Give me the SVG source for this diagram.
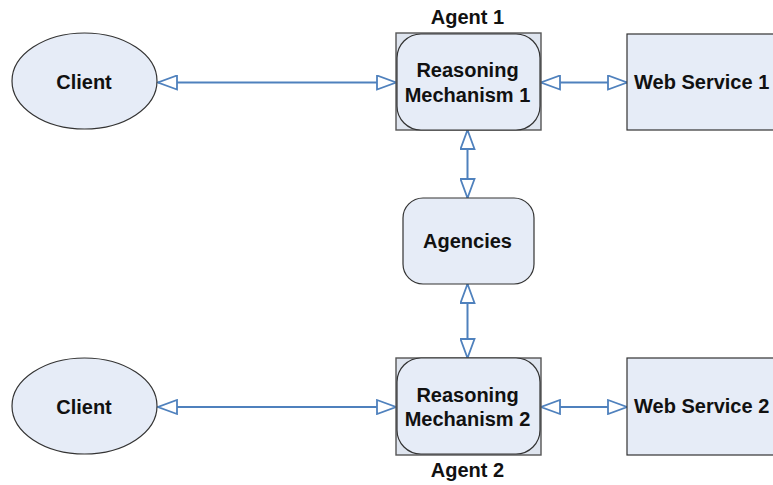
<svg xmlns="http://www.w3.org/2000/svg" width="773" height="485" viewBox="0 0 773 485">
  <defs>
    <style>
      .lbl { font-family: "Liberation Sans", Arial, sans-serif; font-weight: bold; font-size: 20px; fill: #111; }
      .mid { text-anchor: middle; }
      .shape { fill: #e6ecf7; stroke: #333; stroke-width: 1.2; }
      .agent { fill: #dfe5ef; stroke: #555; stroke-width: 1.4; }
      .link { fill: none; stroke: #4f81bd; stroke-width: 2; marker-start: url(#tri); marker-end: url(#tri); }
    </style>
    <marker id="tri" markerUnits="userSpaceOnUse" markerWidth="22" markerHeight="16" refX="19" refY="7" orient="auto-start-reverse" viewBox="-1 -1 22 16">
      <path d="M0,0 L19,7 L0,14 Z" fill="#fff" stroke="#4f81bd" stroke-width="1.8" stroke-linejoin="miter"/>
    </marker>
  </defs>

  <rect width="773" height="485" fill="#fff"/>

  <!-- connectors -->
  <g id="connectors">
    <line class="link" x1="158" y1="82.5" x2="396" y2="82.5"/>
    <line class="link" x1="541" y1="82.5" x2="627" y2="82.5"/>
    <line class="link" x1="467.5" y1="130" x2="467.5" y2="198"/>
    <line class="link" x1="467.5" y1="284" x2="467.5" y2="358"/>
    <line class="link" x1="158" y1="407" x2="396" y2="407"/>
    <line class="link" x1="541" y1="407" x2="627" y2="407"/>
  </g>

  <g id="client1">
    <ellipse class="shape" cx="84.5" cy="81" rx="72.5" ry="48"/>
    <text class="lbl mid" x="84" y="89">Client</text>
  </g>

  <g id="agent1">
    <rect class="agent" x="396" y="33" width="145" height="97"/>
    <rect class="shape" x="397" y="34" width="143" height="96" rx="24" ry="24"/>
    <text class="lbl mid" x="467.5" y="24">Agent 1</text>
    <text class="lbl mid" x="467.5" y="77">Reasoning</text>
    <text class="lbl mid" x="467.5" y="101.5">Mechanism 1</text>
  </g>

  <g id="webservice1">
    <rect class="shape" x="627" y="34" width="160" height="96"/>
    <text class="lbl" x="634" y="88.5">Web Service 1</text>
  </g>

  <g id="agencies">
    <rect class="shape" x="403" y="198" width="131" height="86" rx="20" ry="20"/>
    <text class="lbl mid" x="467.5" y="247.5">Agencies</text>
  </g>

  <g id="client2">
    <ellipse class="shape" cx="84.5" cy="406" rx="72.5" ry="48"/>
    <text class="lbl mid" x="84" y="413.5">Client</text>
  </g>

  <g id="agent2">
    <rect class="agent" x="396" y="358" width="145" height="97"/>
    <rect class="shape" x="397" y="358" width="143" height="96" rx="24" ry="24"/>
    <text class="lbl mid" x="467.5" y="401.5">Reasoning</text>
    <text class="lbl mid" x="467.5" y="426">Mechanism 2</text>
    <text class="lbl mid" x="467.5" y="477">Agent 2</text>
  </g>

  <g id="webservice2">
    <rect class="shape" x="627" y="358" width="160" height="97"/>
    <text class="lbl" x="634" y="413">Web Service 2</text>
  </g>
</svg>
